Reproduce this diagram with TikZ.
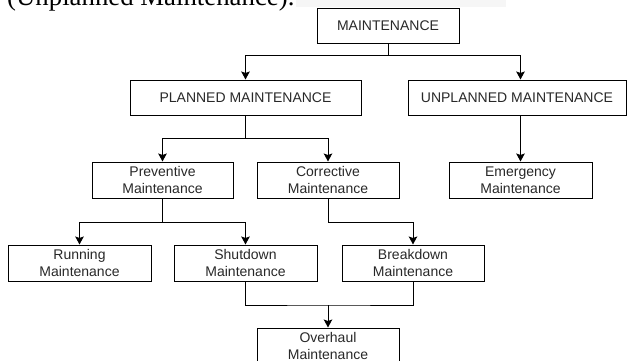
\documentclass[tikz,border=0pt]{standalone}
\usepackage{fontspec}
\setmainfont{Liberation Sans}
\newfontfamily\serifface{Liberation Serif}
\usetikzlibrary{arrows.meta}
\definecolor{txtgray}{RGB}{40,40,40}
\definecolor{hlgray}{RGB}{246,246,246}
\tikzset{
  box/.style={draw=black, line width=1pt, rectangle, inner sep=0pt, align=center,
    text=txtgray, font=\fontsize{14}{16.5}\selectfont, minimum height=36pt},
  conn/.style={draw=black, line width=1pt},
  arr/.style={conn, -{Stealth[length=8pt,width=8.5pt,inset=1.5pt]}}
}
\begin{document}
\begin{tikzpicture}[x=1pt,y=-1pt]
\useasboundingbox (0,0) rectangle (627,360);
\clip (0,0) rectangle (627,360);
\fill[hlgray] (296,-2) rectangle (506,7);
\node[anchor=base west, inner sep=0pt, font=\serifface\fontsize{26.8}{30}\selectfont] (cap) at (7,5.5) {(Unplanned Maintenance).};

\node[box, minimum width=142pt, minimum height=35pt] (m) at (388,25.5) {MAINTENANCE};
\node[box, minimum width=231pt, minimum height=35pt] (p) at (245.5,97.5) {PLANNED MAINTENANCE};
\node[box, minimum width=218pt, minimum height=35pt] (u) at (517,97.5) {UNPLANNED MAINTENANCE};
\node[box, minimum width=141pt] (prev) at (162.5,180) {Preventive\\Maintenance};
\node[box, minimum width=142pt] (corr) at (328,180) {Corrective\\Maintenance};
\node[box, minimum width=143pt] (emer) at (520.5,180) {Emergency\\Maintenance};
\node[box, minimum width=143pt] (run) at (79.5,263) {Running\\Maintenance};
\node[box, minimum width=143pt] (shut) at (245.5,263) {Shutdown\\Maintenance};
\node[box, minimum width=142pt] (brk) at (413,263) {Breakdown\\Maintenance};
\node[box, minimum width=142pt] (over) at (328,346) {Overhaul\\Maintenance};

\coordinate (j1) at (388,55);
\coordinate (j2) at (245.5,138);
\coordinate (j3) at (162.5,222);
\coordinate (j4) at (328,222);
\coordinate (j5) at (328,305);

\draw[conn] (m.south) -- (j1);
\draw[arr] (j1) -| (p.north);
\draw[arr] (j1) -| (emer.north |- u.north);
\draw[arr] (emer.north |- u.south) -- (emer.north);
\draw[conn] (p.south) -- (j2);
\draw[arr] (j2) -| (prev.north);
\draw[arr] (j2) -| (corr.north);
\draw[conn] (prev.south) -- (j3);
\draw[arr] (j3) -| (run.north);
\draw[arr] (j3) -| (shut.north);
\draw[conn] (corr.south) -- (j4);
\draw[arr] (j4) -| (brk.north);
\draw[conn] (shut.south) |- (j5) -| (brk.south);
\draw[arr] (j5) -- (over.north);
\end{tikzpicture}
\end{document}
